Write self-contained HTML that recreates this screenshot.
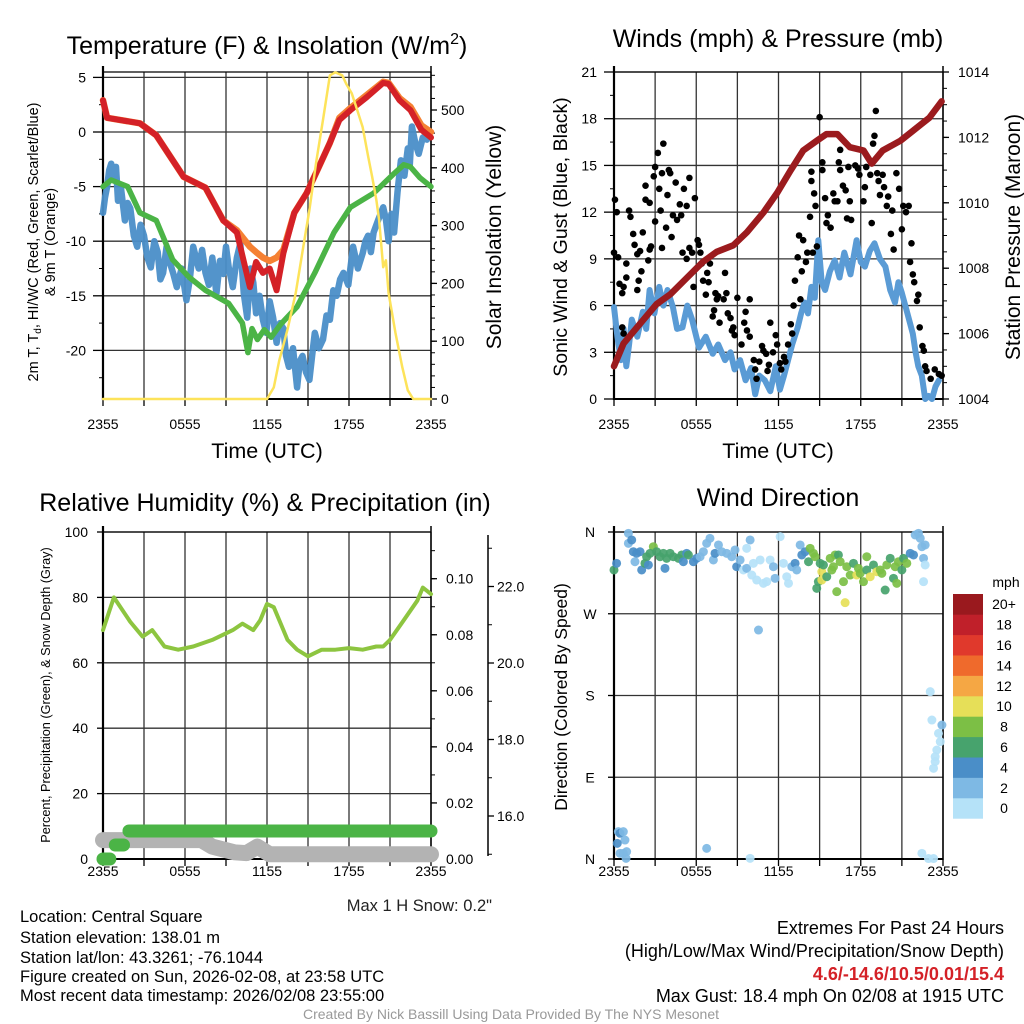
<!DOCTYPE html>
<html><head><meta charset="utf-8"><style>
html,body{margin:0;padding:0;background:#fff}
svg{display:block;font-family:"Liberation Sans",Arial,sans-serif}
</style></head><body>
<svg id="chart" width="1024" height="1024" viewBox="0 0 1024 1024" xmlns="http://www.w3.org/2000/svg">
<rect width="1024" height="1024" fill="#fff"/>
<g id="layer"></g>
<!-- titles -->
<text x="267" y="54" font-size="25" text-anchor="middle">Temperature (F) &amp; Insolation (W/m<tspan font-size="16" dy="-10">2</tspan><tspan dy="10">)</tspan></text>
<text x="778" y="47" font-size="25" text-anchor="middle">Winds (mph) &amp; Pressure (mb)</text>
<text x="265" y="511" font-size="25" text-anchor="middle">Relative Humidity (%) &amp; Precipitation (in)</text>
<text x="778" y="506" font-size="25" text-anchor="middle">Wind Direction</text>
<text x="267" y="458" font-size="21.5" text-anchor="middle">Time (UTC)</text>
<text x="778" y="458" font-size="21.5" text-anchor="middle">Time (UTC)</text>
<text transform="translate(38,242) rotate(-90)" font-size="14.5" text-anchor="middle">2m T, T<tspan font-size="10" dy="3">d</tspan><tspan dy="-3">, HI/WC (Red, Green, Scarlet/Blue)</tspan></text>
<text transform="translate(55,242) rotate(-90)" font-size="14.5" text-anchor="middle">&amp; 9m T (Orange)</text>
<text transform="translate(501,237) rotate(-90)" font-size="21" text-anchor="middle">Solar Insolation (Yellow)</text>
<text transform="translate(567,237) rotate(-90)" font-size="19.5" text-anchor="middle">Sonic Wind &amp; Gust (Blue, Black)</text>
<text transform="translate(1020,237) rotate(-90)" font-size="21" text-anchor="middle">Station Pressure (Maroon)</text>
<text transform="translate(50,695) rotate(-90)" font-size="12.7" text-anchor="middle">Percent, Precipitation (Green), &amp; Snow Depth (Gray)</text>
<text transform="translate(567,697) rotate(-90)" font-size="17.5" text-anchor="middle">Direction (Colored By Speed)</text>
<text x="492" y="911" font-size="16.5" text-anchor="end" fill="#222">Max 1 H Snow: 0.2"</text>
<g font-size="16.5">
<text x="20" y="922">Location: Central Square</text>
<text x="20" y="943">Station elevation: 138.01 m</text>
<text x="20" y="963">Station lat/lon: 43.3261; -76.1044</text>
<text x="20" y="982">Figure created on Sun, 2026-02-08, at 23:58 UTC</text>
<text x="20" y="1001">Most recent data timestamp: 2026/02/08 23:55:00</text>
</g>
<g font-size="18" text-anchor="end">
<text x="1004" y="934">Extremes For Past 24 Hours</text>
<text x="1004" y="957">(High/Low/Max Wind/Precipitation/Snow Depth)</text>
<text x="1004" y="980" fill="#d42127" font-weight="bold">4.6/-14.6/10.5/0.01/15.4</text>
<text x="1004" y="1002">Max Gust: 18.4 mph On 02/08 at 1915 UTC</text>
</g>
<text x="511" y="1019" font-size="14" fill="#999" text-anchor="middle">Created By Nick Bassill Using Data Provided By The NYS Mesonet</text>
</svg>
<script>
// ---------- Panel 1 data ----------
const timeTickLabels = ["2355","0555","1155","1755","2355"];
const tempT = [0,0.3,2.7,3.9,5.9,7.5,8.8,9.8,10.75,11.2,11.7,12.2,12.7,13.2,14,14.9,15.8,16.6,17.3,18.1,19.3,20.5,20.9,21.7,22.5,23.3,24];
const tempV = [2.9,1.3,0.8,-0.3,-4.1,-5.1,-8.1,-9.2,-14.2,-11.9,-12.9,-12.5,-14.5,-11.1,-7.4,-5.6,-3.2,-1.0,1.1,2.0,3.2,4.5,4.4,2.9,2.0,0.2,-0.5];
const tempOrangeV = [2.9,1.3,0.8,-0.3,-4.1,-5.1,-8.1,-9.0,-10.5,-11.0,-11.5,-11.8,-11.5,-10.8,-7.4,-5.6,-3.2,-1.0,1.3,2.2,3.4,4.6,4.5,3.1,2.3,0.6,0.0];
const dewT = [0,0.6,1.8,2.7,3.9,5.1,6.3,7.5,9.2,10.2,10.6,10.9,11.3,11.8,12.3,13,14.2,15.5,16.9,18.1,19.8,21.3,22.0,22.5,23.2,24];
const dewV = [-5.0,-4.4,-5.0,-7.4,-8.1,-11.7,-13.3,-14.5,-15.7,-17.5,-20.2,-18.0,-19.0,-18.1,-18.8,-17.6,-16.0,-12.9,-9.2,-6.9,-5.6,-3.8,-3.0,-3.2,-4.2,-5.0];
const wcT = [0,0.15,0.3,0.45,0.6,0.8,0.95,1.1,1.3,1.6,1.8,2.0,2.25,2.5,2.75,3.0,3.25,3.5,3.75,4.0,4.2,4.4,4.65,4.9,5.15,5.4,5.75,6.1,6.35,6.6,6.8,7.0,7.25,7.5,7.75,8.0,8.15,8.3,8.55,8.8,9.0,9.2,9.5,9.8,10.05,10.3,10.55,10.8,11.0,11.2,11.45,11.7,11.95,12.2,12.45,12.7,12.95,13.2,13.4,13.6,13.9,14.2,14.4,14.6,14.85,15.1,15.3,15.5,15.8,16.1,16.35,16.6,16.85,17.1,17.35,17.6,17.95,18.3,18.65,19.0,19.2,19.4,19.6,19.8,20.15,20.5,20.7,20.9,21.1,21.3,21.55,21.8,22.05,22.3,22.45,22.6,22.85,23.1,23.4,23.7];
const wcV = [-7.4,-6.0,-5.0,-3.5,-2.9,-4.0,-3.2,-6.3,-5.0,-8.1,-6.5,-7.0,-9.5,-10.5,-8.5,-9.5,-11.5,-12.4,-10.0,-11.0,-13.5,-12.9,-10.5,-12.0,-13.0,-14.2,-12.5,-15.4,-13.5,-10.5,-11.5,-12.5,-10.8,-12.9,-14.0,-11.5,-13.2,-14.8,-11.8,-13.0,-10.5,-12.4,-14.2,-11.5,-10.2,-14.8,-17.0,-12.5,-13.8,-16.6,-15.0,-17.2,-18.4,-15.5,-17.0,-19.3,-17.5,-18.0,-20.5,-21.5,-19.8,-23.4,-21.0,-20.5,-22.0,-22.7,-20.5,-18.4,-19.8,-19.0,-16.8,-17.2,-14.5,-15.0,-13.5,-12.9,-14.0,-10.5,-12.5,-11.1,-10.0,-9.5,-11.0,-9.2,-8.0,-6.9,-8.0,-10.0,-7.5,-9.2,-5.5,-2.6,-4.0,-1.5,-3.0,0.5,-1.0,-2.0,-0.5,-0.7];
const solT = [0,12.0,12.5,12.9,13.5,14.1,14.6,15.1,15.6,16.1,16.6,17.0,17.5,17.8,18.2,18.6,19.0,19.4,19.7,20.0,20.2,20.5,20.7,20.9,21.4,21.9,22.3,22.7,24];
const solV = [0,0,20,67,120,183,255,327,410,483,560,565,560,545,529,500,470,420,384,345,310,228,240,183,114,55,15,0,0];
const tempTicks = [5,0,-5,-10,-15,-20];
const solTicks = [0,100,200,300,400,500];
// ---------- Panel 2 data ----------
const pressT = [0,0.7,1.9,3.1,4.1,5.3,6.5,7.5,8.7,9.7,10.9,11.9,12.9,13.8,14.8,15.5,16.3,17.2,18.2,18.8,19.6,20.9,21.8,23.0,23.9];
const pressV = [1005.0,1005.7,1006.3,1006.9,1007.2,1007.7,1008.2,1008.5,1008.7,1009.1,1009.7,1010.3,1011.0,1011.6,1011.9,1012.1,1012.1,1011.7,1011.6,1011.2,1011.6,1011.9,1012.2,1012.6,1013.1];
const windT = [0,0.25,0.5,0.7,0.9,1.1,1.3,1.7,2.1,2.35,2.6,2.95,3.3,3.6,3.9,4.3,4.6,5.0,5.35,5.7,6.0,6.2,6.7,7.2,7.6,8.1,8.5,8.8,9.2,9.6,10.0,10.3,10.6,11.0,11.4,11.8,12.1,12.4,12.7,13.0,13.4,13.65,13.9,14.15,14.4,14.65,14.9,15.15,15.4,15.75,16.1,16.45,16.8,17.25,17.7,18.0,18.3,18.65,19.0,19.4,19.8,20.15,20.5,20.75,21.0,21.4,21.8,22.0,22.2,22.45,22.7,22.95,23.2,23.45,23.7];
const windV = [5.9,4.0,2.5,4.5,2.1,3.5,5.1,4.0,5.6,4.5,7.0,5.5,7.2,6.0,7.0,5.9,4.5,4.6,6.0,5.1,4.0,3.3,4.0,2.9,3.5,2.5,3.0,1.9,2.5,1.2,2.0,0.3,1.5,1.2,0.5,2.1,0.6,1.5,2.5,3.5,4.6,5.5,6.2,5.5,7.2,6.5,10.2,7.5,7.0,8.2,8.9,7.8,9.4,8.0,10.2,8.8,8.5,9.5,10.0,9.0,8.5,7.0,6.2,7.5,6.8,5.5,4.2,3.0,2.1,1.5,0,0.2,0,0.8,1.2];
const gustT = [0.07,0.2,0,0.3,0.4,0.6,0.7,0.9,0.9,0.6,0.7,1.1,1.2,1.4,1.5,1.7,1.7,1.8,1.9,2.1,2.0,2.3,2.3,2.6,2.5,2.6,2.7,2.9,3.0,3.0,3.2,3.3,3.4,3.5,3.5,3.6,3.8,3.9,4.0,4.1,4.2,4.3,4.5,4.6,4.8,4.9,5.0,5.1,5.3,5.3,5.5,5.5,5.7,5.9,5.8,6.1,6.2,6.3,6.4,6.5,6.7,6.8,6.9,7.0,7.2,7.4,7.5,7.6,7.7,7.3,8.0,8.1,8.2,8.3,8.5,8.6,8.7,8.8,9.0,9.3,9.5,9.6,9.7,9.9,9.9,10.2,10.3,10.4,10.6,10.8,10.9,11.1,11.2,11.3,11.4,11.6,11.8,11.9,12.1,12.2,12.4,12.5,12.7,12.9,13.0,13.1,13.2,13.4,13.5,13.6,13.7,13.8,14.0,14.1,14.3,14.4,14.4,14.5,14.6,14.7,14.8,15.0,15.2,15.2,15.4,15.5,15.6,15.8,16.0,16.1,16.3,16.4,16.5,16.5,16.7,16.9,17.0,17.1,17.2,17.3,17.6,17.8,17.9,18.2,18.3,18.4,18.7,18.8,18.9,19.0,19.1,19.2,19.3,19.4,19.6,19.7,19.9,20.0,20.2,20.3,20.4,20.6,20.8,21.0,21.1,21.3,21.5,21.6,21.7,21.8,21.9,22.1,22.2,22.3,22.5,22.6,22.7,22.8,23.1,23.4,23.7,23.9];
const gustV = [12.8,12.0,9.4,9.1,7.4,6.8,7.2,7.8,8.7,4.6,4.2,12.1,11.7,10.6,9.9,9.3,7.0,7.6,9.5,10.7,8.2,13.7,12.8,12.6,8.9,9.6,9.8,14.3,11.4,14.9,15.8,13.5,12.1,14.5,9.7,16.4,11.0,13.1,14.7,14.5,10.4,11.8,13.9,11.5,12.5,11.8,9.4,13.5,9.0,12.4,14.2,9.7,9.4,12.9,7.2,10.2,9.9,9.4,8.7,7.6,6.7,8.1,7.5,8.7,5.3,6.8,6.4,6.6,4.9,5.7,6.4,8.1,6.8,5.5,5.2,4.4,4.6,4.1,6.5,3.5,4.9,5.6,4.4,6.4,4.0,2.5,1.9,1.3,2.4,3.4,3.1,2.9,1.8,2.2,4.9,3.0,4.1,3.5,2.3,1.9,2.7,2.4,3.5,4.8,4.2,6.0,7.6,9.1,10.5,6.4,8.2,10.2,8.8,9.4,11.7,14.0,14.6,9.4,13.2,12.4,9.8,18.1,15.2,14.7,12.9,11.3,11.8,11.0,13.2,12.7,12.7,15.2,16.0,14.7,13.7,13.4,11.6,14.9,12.7,11.5,15.0,14.8,14.4,12.7,13.6,14.9,14.4,11.3,16.4,16.9,18.5,14.5,14.0,13.1,14.4,13.6,12.4,13.0,10.6,12.1,9.6,14.5,13.5,10.9,12.4,12.0,12.4,8.8,10.0,8.0,7.5,6.3,6.7,4.6,3.4,3.1,2.1,1.8,1.3,1.9,1.6,1.5];
const windTicks = [0,3,6,9,12,15,18,21];
const pressTicks = [1004,1006,1008,1010,1012,1014];
// ---------- Panel 3 data ----------
const rhT = [0,0.8,2,2.9,3.6,4.5,5.5,6.6,8,9.5,10.2,11,11.5,12,12.5,13,13.5,14.2,15,16,17,18,19,20,20.5,21,22,23,23.4,24];
const rhV = [70,80,72.5,68,70,65,64,65,67,70,72,70,73,78,77,72,67,64,62,64,64,64.5,64,65,65,67,73,79,83,81];
const precipT = [0,0.5,0.9,1.5,1.9,24];
const precipV = [0,0,0.005,0.005,0.01,0.01];
const snowT = [0,7.2,8,9.6,10.5,11.3,12.2,24];
const snowV = [15.37,15.37,15.2,15.05,15.03,15.2,15.0,15.0];
const rhTicks = [0,20,40,60,80,100];
const precipTicks = ["0.00","0.02","0.04","0.06","0.08","0.10"];
const snowTicks = ["16.0","18.0","20.0","22.0"];
// ---------- Panel 4 data ----------
const dirT = [0,0.19,1.05,1.05,1.29,1.41,1.65,1.53,2.02,1.90,2.38,2.26,2.51,2.87,2.63,3.11,3.36,3.60,3.72,3.84,4.09,4.33,4.70,4.94,5.06,5.30,5.43,5.79,6.03,6.28,6.52,6.76,7.00,7.25,7.37,7.62,7.86,8.22,8.59,8.83,8.95,9.20,9.44,9.68,9.93,9.68,10.17,10.05,10.41,10.66,10.90,11.14,11.39,11.63,11.75,12.12,12.36,12.60,12.73,12.97,13.21,13.33,13.58,13.70,13.94,14.19,14.31,14.55,14.67,14.79,14.91,15.04,15.16,15.16,15.28,15.52,15.77,15.89,16.01,16.13,16.25,16.37,16.50,16.74,16.86,16.98,17.23,17.47,17.71,17.83,17.96,18.20,18.44,18.44,18.69,18.93,19.17,19.42,19.54,19.78,19.90,20.15,20.39,20.51,20.63,20.75,21.00,21.12,21.36,21.61,21.85,21.97,22.21,22.34,22.46,22.70,22.58,22.70,22.58,10.54,23.07,23.19,23.92,23.67,23.80,23.55,23.43,23.43,23.31,0.32,0.44,0.68,0.80,0.24,0.44,0.92,0.68,0.88,6.76,9.93,22.46,22.94,23.31];
const dirDeg = [318.2,325.5,358.5,347.5,351.2,338.3,336.5,327.3,318.2,338.3,332.8,325.5,323.7,343.8,336.5,338.3,332.8,336.5,320.0,331.0,336.5,332.8,331.0,334.7,327.3,336.5,334.7,327.3,331.0,332.8,338.3,347.5,353.0,329.2,336.5,345.7,338.3,336.5,332.8,340.2,321.8,329.2,318.2,342.0,351.2,320.0,325.5,312.6,307.1,329.2,303.5,305.3,329.2,321.8,309.0,354.9,325.5,310.8,303.5,321.8,325.5,318.2,345.7,334.7,338.3,327.3,342.0,336.5,332.8,298.0,305.3,325.5,316.3,307.1,323.7,310.8,331.0,318.2,321.8,334.7,294.3,334.7,327.3,305.3,282.2,321.8,312.6,325.5,312.6,320.0,314.5,305.3,332.8,318.2,310.8,323.7,316.3,318.2,314.5,296.1,323.7,331.0,309.0,321.8,303.5,327.3,318.2,331.0,325.5,336.5,334.7,356.7,358.5,353.0,343.8,345.7,331.0,323.7,305.3,252.1,184.2,153.0,147.5,138.3,129.2,120.0,112.6,107.2,99.8,30.1,28.3,30.1,20.9,17.2,6.2,8.1,6.2,0.7,11.7,0.7,6.2,0.5,0.5];
const dirSpd = [7,5,3,3,5,5,5,3,5,5,7,7,5,9,7,7,7,7,5,7,7,7,7,7,5,5,7,5,5,3,3,3,3,3,5,3,3,3,3,3,5,3,1,1,3,3,1,1,1,1,1,1,1,3,3,1,1,1,1,3,5,3,3,5,5,7,9,9,9,7,7,7,10.5,10.5,7,7,9,9,9,9,9,7,9,9,10.5,9,9,7,10.5,9,9,9,9,7,10.5,7,10.5,9,9,7,9,7,7,9,9,9,7,7,9,5,5,3,3,3,3,3,3,1,1,3,1,1,3,1,1,1,1,1,1,3,5,3,3,5,3,3,3,3,3,1,1,1,1];
const dirTickLabels = ["N","E","S","W","N"];
const speedBins = ["0","2","4","6","8","10","12","14","16","18","20+"];
const speedColors = ["#b5e2f8","#7eb9e4","#4a8ec8","#47a36d","#7cbf45","#e6df58","#f5a744","#ef6a2c","#e0392c","#c0202a","#9a191e"];

// ---------- helpers ----------
const NS = "http://www.w3.org/2000/svg";
const layer = document.getElementById("layer");
function mk(tag, attrs, parent) {
  const el = document.createElementNS(NS, tag);
  for (const k in attrs) el.setAttribute(k, attrs[k]);
  (parent || layer).appendChild(el);
  return el;
}
function scaleLin(d0, d1, r0, r1) { return v => r0 + (v - d0) / (d1 - d0) * (r1 - r0); }
function linePath(ts, vs, xs, ys) {
  return ts.map((t, i) => (i ? "L" : "M") + xs(t).toFixed(1) + "," + ys(vs[i]).toFixed(1)).join("");
}

const P1 = {x0:103, x1:431, y0:72, y1:399};
const P2 = {x0:614, x1:943, y0:72, y1:399};
const P3 = {x0:103, x1:431, y0:532, y1:859};
const P4 = {x0:614, x1:943, y0:532, y1:859};

function timeAxis(P, labelY, nm) {
  const xs = scaleLin(0, 24, P.x0, P.x1);
  for (let h = 0; h <= 24; h += 3) {
    const g = mk("line", {x1:xs(h), x2:xs(h), y1:P.y0, y2:P.y1, stroke:"#333", "stroke-width":1.3});
    
    
    const tk = mk("line", {x1:xs(h), x2:xs(h), y1:P.y1, y2:P.y1 + 7, stroke:"#000", "stroke-width":1.3});
    
    
  }
  timeTickLabels.forEach((s, i) => {
    const t = mk("text", {x:xs(i * 6), y:labelY, "font-size":14, "text-anchor":"middle"});
    t.textContent = s;
    
    
  });
  return xs;
}
function hgrid(P, ys, vals, nm) {
  vals.forEach(v => {
    const l = mk("line", {x1:P.x0, x2:P.x1, y1:ys(v), y2:ys(v), stroke:"#333", "stroke-width":1.3});
    
    
  });
}
function yTicks(x, dir, ys, vals, labels, labelX, anchor, nm, len) {
  vals.forEach((v, i) => {
    const tk = mk("line", {x1:x, x2:x + dir * (len || 6), y1:ys(v), y2:ys(v), stroke:"#000", "stroke-width":1.3});
    
    
    const t = mk("text", {x:labelX, y:ys(v) + 5, "font-size":14, "text-anchor":anchor});
    t.textContent = labels[i];
    
    
  });
}
function minorTicks(x, dir, ys, from, to, step, nm) {
  for (let v = from; v <= to + 1e-9; v += step) {
    const tk = mk("line", {x1:x, x2:x + dir * 4, y1:ys(v), y2:ys(v), stroke:"#000", "stroke-width":1});
    
    
  }
}
function frame(P, nm) {
  const l = mk("line", {x1:P.x0, x2:P.x0, y1:P.y0 - 6, y2:P.y1 + 1, stroke:"#000", "stroke-width":2.2});
  
  
  const r = mk("line", {x1:P.x1, x2:P.x1, y1:P.y0 - 6, y2:P.y1 + 1, stroke:"#000", "stroke-width":1.5});
  
  
  const b = mk("line", {x1:P.x0, x2:P.x1, y1:P.y1, y2:P.y1, stroke:"#000", "stroke-width":2});
  
  
  const t = mk("line", {x1:P.x0, x2:P.x1, y1:P.y0, y2:P.y0, stroke:"#000", "stroke-width":1.3});
  
  
}
function series(d, color, w, nm, op) {
  const p = mk("path", {d:d, fill:"none", stroke:color, "stroke-width":w, "stroke-linejoin":"round", "stroke-linecap":"round", opacity:op || 1});
  
  
  return p;
}

// ---------- Panel 1 ----------
const yT = scaleLin(0, 5, 132, 77.4);
const yS = scaleLin(0, 500, 399, 110);
const x1s = timeAxis(P1, 429, "p1");
hgrid(P1, yT, tempTicks, "p1");
frame(P1, "p1");
yTicks(P1.x0, -1, yT, tempTicks, tempTicks.map(String), 86, "end", "p1-y", 10);
minorTicks(P1.x0, -1, yT, -22.5, 2.5, 5, "p1-y");
yTicks(P1.x1, 1, yS, solTicks, solTicks.map(String), 441, "start", "p1-y2");
minorTicks(P1.x1, 1, yS, 20, 560, 20, "p1-y2");
series(linePath(wcT, wcV, x1s, yT), "#4a8ec8", 6.5, "windchill-line", 0.95);
series(linePath(dewT, dewV, x1s, yT), "#4bb446", 5.5, "dewpoint-line");
series(linePath(tempT, tempOrangeV, x1s, yT), "#f58133", 6.5, "temp-9m-line");
series(linePath(tempT, tempV, x1s, yT), "#d42127", 6, "temp-2m-line");
series(linePath(solT, solV, x1s, yS), "#fde35a", 2.5, "insolation-line");

// ---------- Panel 2 ----------
const yW = scaleLin(0, 21, 399, 72);
const yP = scaleLin(1004, 1014, 399, 72);
const x2s = timeAxis(P2, 429, "p2");
hgrid(P2, yW, windTicks, "p2");
frame(P2, "p2");
yTicks(P2.x0, -1, yW, windTicks, windTicks.map(String), 597, "end", "p2-y", 10);
minorTicks(P2.x0, -1, yW, 1.5, 19.5, 3, "p2-y");
yTicks(P2.x1, 1, yP, pressTicks, pressTicks.map(String), 958, "start", "p2-y2");
minorTicks(P2.x1, 1, yP, 1004.5, 1013.5, 0.5, "p2-y2");
series(linePath(windT, windV, x2s, yW), "#5a9bd5", 6, "sonic-wind-line");
gustT.forEach((t, i) => {
  const c = mk("circle", {cx:x2s(t), cy:yW(gustV[i]), r:3.3, fill:"#000"});
  
  
});
series(linePath(pressT, pressV, x2s, yP), "#9b1b1e", 6.5, "pressure-line");

// ---------- Panel 3 ----------
const yRH = scaleLin(0, 100, 859, 532);
const yPr = scaleLin(0, 0.1, 859, 578.7);
const ySn = scaleLin(16, 22, 816, 586.5);
const x3s = timeAxis(P3, 876, "p3");
hgrid(P3, yRH, rhTicks, "p3");
frame(P3, "p3");
yTicks(P3.x0, -1, yRH, rhTicks, rhTicks.map(String), 88, "end", "p3-y");
yTicks(P3.x1, 1, yPr, precipTicks.map(Number), precipTicks, 446, "start", "p3-y2");
minorTicks(P3.x1, 1, yPr, 0.01, 0.11, 0.01, "p3-y2");
const sax = mk("line", {x1:488, x2:488, y1:535, y2:856, stroke:"#000", "stroke-width":1.5});


yTicks(488, 1, ySn, snowTicks.map(Number), snowTicks, 497, "start", "p3-y3");
minorTicks(488, 1, ySn, 15, 23, 1, "p3-y3");
series(linePath(snowT, snowV, x3s, ySn), "#b3b3b3", 16, "snow-depth-line");
for (let i = 1; i < precipT.length; i++) {
  if (precipV[i] === precipV[i - 1]) {
    series("M" + x3s(precipT[i - 1]) + "," + yPr(precipV[i]) + "L" + x3s(precipT[i]) + "," + yPr(precipV[i]), "#4bb446", 13, "precip-line");
  }
}
series(linePath(rhT, rhV, x3s, yRH), "#8dc540", 4, "rh-line");

// ---------- Panel 4 ----------
const yD = scaleLin(0, 360, 859, 532);
const x4s = timeAxis(P4, 876, "p4");
hgrid(P4, yD, [0, 90, 180, 270, 360], "p4");
frame(P4, "p4");
yTicks(P4.x0, -1, yD, [0, 90, 180, 270, 360], dirTickLabels, 590, "middle", "p4-y");
function speedColor(s) { return speedColors[Math.min(10, Math.floor(s / 2))]; }
dirT.forEach((t, i) => {
  const c = mk("circle", {cx:x4s(t), cy:yD(dirDeg[i]), r:4.5, fill:speedColor(dirSpd[i]), opacity:0.92});
  
  
});
// colorbar
const cbTop = 594, cbH = 20.4;
speedBins.forEach((lab, i) => {
  const yy = cbTop + (10 - i) * cbH;
  const r = mk("rect", {x:953, y:yy, width:30, height:cbH + 0.3, fill:speedColors[i]});
  
  
  const t = mk("text", {x:1004, y:yy + cbH / 2 + 5, "font-size":14, "text-anchor":"middle"});
  t.textContent = lab;
  
  
});
const cbt = mk("text", {x:1006, y:587, "font-size":14, "text-anchor":"middle"});
cbt.textContent = "mph";


</script>
</body></html>
